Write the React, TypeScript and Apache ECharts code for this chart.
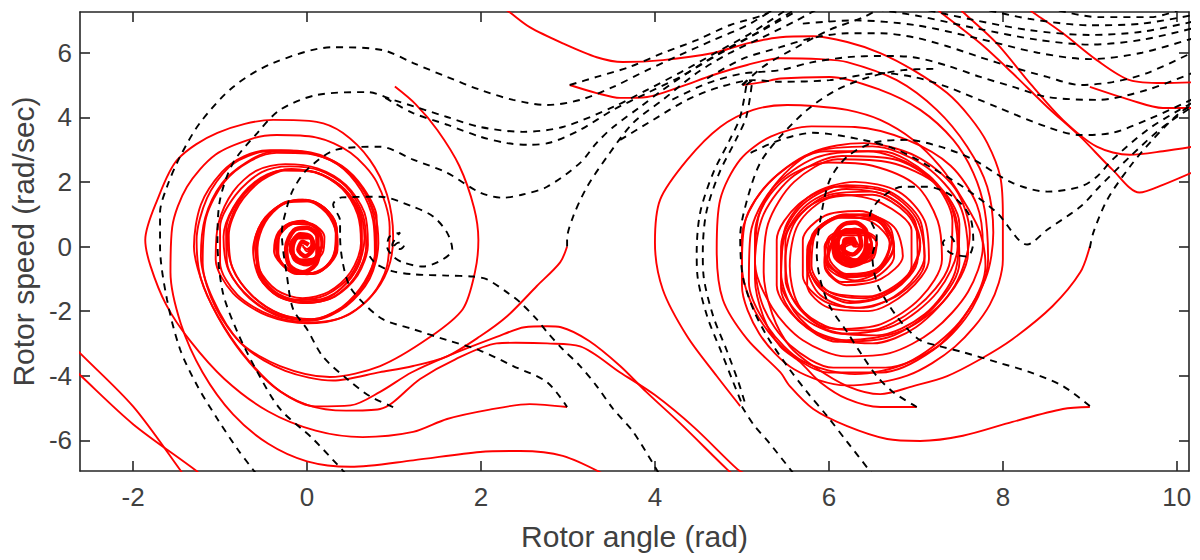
import React, { useEffect, useRef } from "react";
import * as echarts from "echarts";

// ---------- axis ticks ----------
const xTicks = [-2, 0, 2, 4, 6, 8, 10];
const yTicks = [-6, -4, -2, 0, 2, 4, 6];
const xRange = [-2.61, 10.14];
const yRange = [-6.95, 7.26];

// ---------- red trajectories (converging) ----------
const redFrom1_5 = [[1.01,4.95],[1.25,4.4],[1.5,3.6],[1.75,2.5],[1.92,1.2],[1.97,0.2],[1.93,-0.8],[1.79,-1.94],[1.41,-2.81],[0.84,-3.7],[0.26,-4.04],[-0.31,-3.7],[-0.77,-2.96],[-1.08,-1.64],[-1.22,-0.3],[-1.17,0.9],[-0.98,1.95],[-0.7,2.6],[-0.4,2.93],[0.0,2.9],[0.35,2.55],[0.62,1.75],[0.76,0.8],[0.78,-0.2],[0.65,-1.2],[0.38,-1.95],[0.05,-2.25],[-0.3,-2.1],[-0.62,-1.55],[-0.85,-0.7],[-0.92,0.3],[-0.8,1.3],[-0.55,2.05],[-0.25,2.38],[0.1,2.3],[0.4,1.8],[0.58,1.0],[0.62,0.1],[0.5,-0.8],[0.25,-1.4],[-0.05,-1.6],[-0.35,-1.35],[-0.55,-0.7],[-0.6,0.15],[-0.48,0.9],[-0.25,1.35],[0.0,1.4],[0.22,1.05],[0.33,0.4],[0.3,-0.35],[0.12,-0.8],[-0.12,-0.85],[-0.32,-0.45],[-0.36,0.15],[-0.25,0.65],[-0.05,0.8],[0.12,0.5],[0.17,0.0],[0.08,-0.4],[-0.1,-0.45],[-0.2,-0.1],[-0.14,0.3],[0.0,0.35],[0.07,0.1],[0.02,-0.1],[-0.05,0.0]];
const redFrom3_m5 = [[2.99,-4.97],[2.56,-4.88],[2.1,-5.05],[1.61,-5.34],[1.22,-5.74],[0.64,-5.9],[0.1,-5.7],[-0.45,-5.1],[-0.95,-4.1],[-1.35,-2.9],[-1.62,-1.8],[-1.8,-0.6],[-1.86,0.2],[-1.72,1.45],[-1.49,2.69],[-1.03,3.52],[-0.39,3.92],[0.11,3.86],[0.41,3.52],[0.72,2.69],[0.92,1.6],[0.99,0.3],[0.93,-0.7],[0.72,-1.6],[0.4,-2.2],[0.0,-2.38],[-0.45,-2.15],[-0.85,-1.45],[-1.05,-0.4],[-1.02,0.7],[-0.85,1.7],[-0.58,2.35],[-0.25,2.55],[0.12,2.42],[0.45,1.9],[0.66,1.05],[0.7,0.05],[0.58,-0.9],[0.32,-1.55],[0.0,-1.75],[-0.33,-1.55],[-0.55,-0.95],[-0.62,-0.1],[-0.52,0.75],[-0.3,1.3],[-0.05,1.45],[0.2,1.2],[0.34,0.6],[0.35,-0.1],[0.22,-0.65],[0.0,-0.86],[-0.25,-0.65],[-0.38,-0.15],[-0.33,0.45],[-0.15,0.75],[0.06,0.7],[0.2,0.3],[0.18,-0.2],[0.03,-0.5],[-0.15,-0.35],[-0.2,0.05],[-0.1,0.35],[0.05,0.3],[0.09,0.0],[0.0,-0.15],[-0.05,0.05]];
const redLowArc = [[3.45,-7.1],[2.94,-6.48],[2.45,-6.33],[1.99,-6.36],[1.22,-6.62],[0.5,-6.82],[0.0,-6.65],[-0.45,-6.1],[-0.85,-5.2],[-1.2,-3.9],[-1.45,-2.4],[-1.57,-0.8],[-1.55,0.6],[-1.38,1.85],[-1.05,2.85],[-0.62,3.35],[-0.35,3.45],[0.1,3.38],[0.5,2.9],[0.8,2.0],[0.95,0.6],[0.92,-0.6],[0.75,-1.5],[0.45,-2.15],[0.05,-2.35],[-0.4,-2.15],[-0.8,-1.5],[-1.0,-0.5],[-1.0,0.6],[-0.82,1.6],[-0.52,2.3],[-0.2,2.48],[0.15,2.35],[0.45,1.85],[0.64,1.0],[0.68,0.0],[0.55,-0.95],[0.28,-1.6],[-0.05,-1.75],[-0.38,-1.45],[-0.57,-0.75],[-0.58,0.2],[-0.45,0.95],[-0.2,1.4],[0.05,1.4],[0.27,0.95],[0.34,0.2],[0.27,-0.5],[0.07,-0.85],[-0.18,-0.75],[-0.33,-0.3],[-0.32,0.3],[-0.16,0.7],[0.05,0.65],[0.17,0.2],[0.13,-0.3],[-0.03,-0.45],[-0.16,-0.15],[-0.1,0.25],[0.04,0.25],[0.05,0.0]];
const redHumpA = [[4.9,-7.05],[4.83,-6.9],[4.3,-5.5],[3.9,-4.5],[3.6,-3.7],[3.24,-2.92],[2.92,-2.5],[2.76,-2.47],[2.5,-2.5],[2.18,-2.8],[1.61,-3.4],[1.2,-3.9],[0.84,-4.5],[0.5,-4.92],[0.1,-4.95],[-0.3,-4.5],[-0.65,-3.6],[-0.95,-2.5],[-1.18,-1.3],[-1.3,0.0],[-1.22,1.3],[-0.98,2.3],[-0.72,2.8],[-0.43,2.98],[-0.05,2.95],[0.3,2.65],[0.6,1.95],[0.78,1.0],[0.82,0.1],[0.72,-1.0],[0.45,-1.85],[0.08,-2.28],[-0.3,-2.15],[-0.65,-1.6],[-0.9,-0.75],[-0.96,0.3],[-0.85,1.2],[-0.6,2.0],[-0.3,2.35],[0.05,2.32],[0.38,1.9],[0.6,1.15],[0.66,0.25],[0.57,-0.7],[0.32,-1.45],[0.0,-1.7],[-0.32,-1.5],[-0.52,-0.9],[-0.57,-0.05],[-0.48,0.75],[-0.28,1.3],[-0.02,1.45],[0.22,1.15],[0.34,0.5],[0.32,-0.25],[0.15,-0.75],[-0.08,-0.85],[-0.28,-0.55],[-0.35,0.0],[-0.27,0.55],[-0.08,0.78],[0.1,0.6],[0.18,0.15],[0.12,-0.3],[-0.04,-0.45],[-0.17,-0.2],[-0.14,0.2],[0.0,0.3],[0.08,0.08],[0.0,-0.08]];
const redHumpB = [[5.05,-7.05],[4.95,-6.9],[4.45,-5.6],[4.0,-4.6],[3.6,-3.9],[3.14,-3.09],[2.76,-3.0],[2.4,-2.98],[2.18,-3.0],[1.7,-3.5],[1.3,-4.1],[0.84,-5.03],[0.45,-5.08],[0.0,-4.9],[-0.4,-4.3],[-0.75,-3.3],[-1.02,-2.2],[-1.22,-1.0],[-1.27,0.2],[-1.15,1.5],[-0.9,2.45],[-0.6,2.88],[-0.3,2.97],[0.05,2.88],[0.4,2.5],[0.65,1.8],[0.8,0.9],[0.8,-0.1],[0.68,-1.1],[0.4,-1.9],[0.02,-2.3],[-0.38,-2.1],[-0.72,-1.45],[-0.92,-0.5],[-0.93,0.5],[-0.78,1.45],[-0.5,2.15],[-0.18,2.4],[0.18,2.2],[0.48,1.6],[0.63,0.7],[0.62,-0.3],[0.45,-1.15],[0.15,-1.65],[-0.2,-1.65],[-0.48,-1.2],[-0.58,-0.4],[-0.55,0.45],[-0.37,1.15],[-0.1,1.45],[0.15,1.3],[0.32,0.8],[0.35,0.05],[0.22,-0.6],[0.0,-0.85],[-0.22,-0.7],[-0.35,-0.25],[-0.32,0.35],[-0.15,0.7],[0.05,0.68],[0.17,0.3],[0.15,-0.2],[0.0,-0.45],[-0.15,-0.3],[-0.17,0.1],[-0.05,0.32],[0.07,0.15],[0.02,-0.07]];
const redFrom3_0 = [[2.99,0.0],[2.91,-0.49],[2.64,-1.23],[2.3,-2.16],[1.99,-2.78],[1.61,-3.4],[1.22,-3.7],[0.84,-3.89],[0.3,-4.15],[-0.25,-3.85],[-0.72,-3.1],[-1.05,-1.9],[-1.2,-0.5],[-1.16,0.9],[-0.95,2.0],[-0.65,2.65],[-0.35,2.9],[0.0,2.88],[0.35,2.55],[0.62,1.85],[0.77,0.9],[0.79,-0.1],[0.66,-1.1],[0.4,-1.88],[0.05,-2.25],[-0.32,-2.08],[-0.64,-1.5],[-0.86,-0.65],[-0.9,0.35],[-0.78,1.3],[-0.52,2.05],[-0.2,2.38],[0.15,2.25],[0.44,1.75],[0.6,0.95],[0.63,0.0],[0.5,-0.9],[0.22,-1.5],[-0.1,-1.65],[-0.4,-1.35],[-0.56,-0.7],[-0.58,0.15],[-0.46,0.9],[-0.22,1.38],[0.03,1.42],[0.25,1.0],[0.34,0.35],[0.28,-0.4],[0.1,-0.82],[-0.14,-0.82],[-0.31,-0.42],[-0.34,0.15],[-0.22,0.62],[-0.03,0.76],[0.13,0.48],[0.17,0.0],[0.06,-0.38],[-0.1,-0.4],[-0.18,-0.08],[-0.11,0.26],[0.03,0.28],[0.06,0.03]];
const redBlobLeft = [[0.15,0.0],[0.1,-0.55],[-0.05,-0.8],[-0.2,-0.6],[-0.24,-0.05],[-0.15,0.5],[0.0,0.58],[0.12,0.3],[0.12,-0.25],[0.0,-0.55],[-0.14,-0.4],[-0.17,0.05],[-0.08,0.38],[0.04,0.3],[0.07,-0.05],[-0.02,-0.3],[-0.1,-0.1],[-0.05,0.15],[0.02,0.05]];
const redDiagA = [[-2.7,-3.05],[-2.61,-3.3],[-2.0,-4.95],[-1.45,-6.95],[-1.42,-7.1]];
const redDiagB = [[-2.7,-3.75],[-2.61,-3.98],[-2.0,-5.5],[-1.27,-6.95],[-1.22,-7.1]];
const redFrom9_m5 = [[9.0,-4.97],[8.69,-5.03],[8.11,-5.43],[7.54,-5.86],[7.05,-6.02],[6.67,-5.96],[6.21,-5.56],[5.82,-5.03],[5.55,-4.32],[5.44,-3.89],[5.06,-2.87],[4.78,-1.64],[4.71,-0.09],[4.75,1.45],[4.98,2.69],[5.33,3.4],[5.8,3.72],[6.3,3.7],[6.9,3.3],[7.4,2.5],[7.7,1.3],[7.77,0.0],[7.6,-1.4],[7.2,-2.6],[6.7,-3.3],[6.2,-3.4],[5.7,-2.9],[5.35,-1.9],[5.15,-0.5],[5.2,1.0],[5.5,2.1],[6.0,2.6],[6.5,2.5],[7.0,1.9],[7.25,0.8],[7.3,-0.4],[7.05,-1.6],[6.6,-2.4],[6.1,-2.55],[5.7,-2.0],[5.5,-1.0],[5.5,0.2],[5.75,1.2],[6.15,1.6],[6.6,1.35],[6.95,0.5],[6.95,-0.6],[6.65,-1.5],[6.25,-1.75],[5.9,-1.3],[5.75,-0.4],[5.85,0.5],[6.15,0.95],[6.5,0.75],[6.7,0.1],[6.6,-0.7],[6.3,-1.05],[6.0,-0.7],[5.95,0.0],[6.15,0.45],[6.45,0.35],[6.5,-0.2],[6.3,-0.55],[6.1,-0.25],[6.2,0.1],[6.32,0.0]];
const redFrom5_m5 = [[4.98,-4.94],[4.71,-4.01],[4.37,-2.78],[4.09,-1.33],[4.0,0.12],[4.06,1.45],[4.37,2.68],[4.75,3.7],[5.13,4.23],[5.52,4.38],[5.82,4.35],[6.21,4.23],[6.59,3.92],[6.97,3.3],[7.28,2.47],[7.54,1.45],[7.74,0.43],[7.8,-0.6],[7.6,-2.0],[7.2,-3.2],[6.6,-3.9],[6.0,-3.9],[5.5,-3.2],[5.15,-2.0],[5.0,-0.6],[5.05,0.9],[5.4,2.2],[5.95,2.95],[6.6,2.95],[7.15,2.2],[7.45,1.0],[7.5,-0.5],[7.2,-1.9],[6.7,-2.8],[6.1,-2.95],[5.65,-2.3],[5.4,-1.2],[5.4,0.2],[5.65,1.3],[6.1,1.85],[6.65,1.7],[7.0,0.9],[7.1,-0.3],[6.85,-1.35],[6.4,-1.9],[5.95,-1.7],[5.7,-0.9],[5.7,0.2],[5.95,0.95],[6.35,1.1],[6.7,0.6],[6.75,-0.3],[6.5,-1.0],[6.15,-1.1],[5.95,-0.5],[6.0,0.3],[6.3,0.55],[6.55,0.1],[6.45,-0.45],[6.2,-0.5],[6.15,0.0],[6.3,0.2],[6.28,0.0]];
const redFrom7_m5 = [[7.01,-4.97],[6.59,-4.97],[6.21,-4.72],[5.9,-4.2],[5.67,-3.58],[5.44,-3.09],[5.25,-2.2],[5.15,-1.0],[5.15,0.4],[5.35,1.8],[5.8,2.9],[6.4,3.2],[7.0,2.8],[7.45,1.8],[7.62,0.4],[7.45,-1.2],[7.0,-2.5],[6.5,-3.0],[5.95,-2.8],[5.6,-2.0],[5.45,-0.8],[5.5,0.6],[5.8,1.6],[6.3,2.0],[6.8,1.7],[7.1,0.8],[7.15,-0.4],[6.9,-1.4],[6.45,-2.0],[6.0,-1.9],[5.75,-1.2],[5.75,-0.1],[6.0,0.8],[6.4,1.0],[6.75,0.6],[6.85,-0.3],[6.6,-1.0],[6.2,-1.2],[5.95,-0.6],[6.0,0.2],[6.3,0.55],[6.55,0.2],[6.5,-0.4],[6.25,-0.55],[6.1,-0.1],[6.28,0.2],[6.35,0.0],[6.28,0.0]];
const redFrom9_0 = [[9.0,0.0],[8.89,-0.8],[8.57,-1.85],[8.11,-2.87],[7.74,-3.49],[7.36,-4.01],[6.97,-4.32],[6.59,-4.57],[6.21,-4.32],[5.82,-3.7],[5.55,-3.09],[5.35,-2.1],[5.25,-0.8],[5.3,0.7],[5.6,2.0],[6.1,2.7],[6.7,2.6],[7.25,1.9],[7.5,0.7],[7.45,-0.8],[7.1,-2.1],[6.55,-2.75],[6.0,-2.6],[5.65,-1.8],[5.55,-0.6],[5.65,0.7],[6.0,1.5],[6.5,1.6],[6.9,1.0],[7.05,0.0],[6.85,-1.1],[6.4,-1.6],[6.0,-1.4],[5.8,-0.6],[5.85,0.4],[6.15,0.9],[6.55,0.8],[6.7,0.1],[6.55,-0.7],[6.2,-0.85],[6.0,-0.3],[6.15,0.35],[6.45,0.35],[6.5,-0.1],[6.3,-0.4],[6.15,-0.1],[6.28,0.1],[6.28,0.0]];
const redFromTop = [[2.25,7.4],[2.33,7.25],[2.56,6.79],[2.94,6.29],[3.33,5.86],[3.63,5.71],[4.09,5.77],[4.67,5.99],[5.06,6.29],[5.44,6.48],[5.82,6.51],[6.21,6.33],[6.59,5.99],[6.97,5.46],[7.36,4.75],[7.62,4.01],[7.82,3.21],[7.97,2.16],[8.0,0.93],[8.0,-0.4],[7.85,-1.8],[7.45,-3.1],[6.9,-4.0],[6.2,-4.3],[5.6,-3.8],[5.2,-2.7],[5.0,-1.2],[5.0,0.3],[5.25,1.8],[5.8,2.9],[6.5,3.1],[7.1,2.5],[7.5,1.3],[7.6,-0.2],[7.35,-1.6],[6.85,-2.6],[6.2,-2.9],[5.7,-2.4],[5.45,-1.3],[5.45,0.0],[5.7,1.3],[6.2,1.9],[6.7,1.7],[7.05,0.8],[7.1,-0.5],[6.8,-1.5],[6.3,-1.9],[5.9,-1.5],[5.75,-0.6],[5.85,0.5],[6.2,1.0],[6.6,0.8],[6.75,0.0],[6.55,-0.8],[6.2,-0.95],[5.98,-0.4],[6.1,0.35],[6.4,0.45],[6.5,-0.1],[6.3,-0.45],[6.12,-0.1],[6.28,0.15],[6.3,0.0]];
const redFrom3_5 = [[3.02,5.0],[3.33,4.75],[3.6,4.6],[3.91,4.63],[4.29,4.94],[4.67,5.31],[5.06,5.62],[5.44,5.83],[5.9,5.8],[6.21,5.71],[6.78,5.15],[7.24,4.23],[7.59,3.09],[7.82,1.85],[7.89,0.43],[7.8,-1.0],[7.45,-2.5],[6.9,-3.6],[6.3,-3.95],[5.7,-3.55],[5.3,-2.5],[5.08,-1.1],[5.1,0.4],[5.35,1.8],[5.85,2.75],[6.45,2.95],[7.0,2.45],[7.38,1.4],[7.48,0.0],[7.25,-1.4],[6.75,-2.45],[6.15,-2.7],[5.68,-2.15],[5.45,-1.1],[5.48,0.2],[5.75,1.3],[6.2,1.78],[6.68,1.55],[7.0,0.7],[7.02,-0.4],[6.75,-1.35],[6.3,-1.7],[5.92,-1.35],[5.76,-0.5],[5.86,0.45],[6.2,0.98],[6.58,0.78],[6.74,0.0],[6.55,-0.75],[6.2,-0.92],[5.98,-0.35],[6.1,0.35],[6.42,0.42],[6.5,-0.1],[6.3,-0.45],[6.12,-0.1],[6.28,0.15],[6.3,0.0]];
const redFrom5_5 = [[5.01,5.0],[5.24,5.09],[5.44,5.2],[6.01,5.25],[6.59,4.85],[7.05,4.23],[7.43,3.3],[7.66,2.28],[7.79,1.14],[7.83,-0.4],[7.65,-1.9],[7.25,-3.1],[6.65,-3.75],[6.05,-3.75],[5.55,-3.05],[5.25,-1.9],[5.15,-0.5],[5.25,1.0],[5.6,2.2],[6.15,2.8],[6.75,2.7],[7.2,2.0],[7.42,0.8],[7.38,-0.6],[7.0,-1.9],[6.45,-2.6],[5.9,-2.45],[5.58,-1.6],[5.5,-0.4],[5.62,0.8],[6.0,1.6],[6.5,1.7],[6.9,1.1],[7.05,0.1],[6.88,-0.95],[6.45,-1.55],[6.0,-1.4],[5.78,-0.7],[5.8,0.3],[6.1,0.9],[6.5,0.85],[6.72,0.2],[6.6,-0.6],[6.25,-0.9],[5.98,-0.5],[6.02,0.25],[6.33,0.5],[6.55,0.1],[6.42,-0.4],[6.18,-0.35],[6.17,0.1],[6.32,0.15],[6.3,-0.02]];
const redBlobRight = [[6.47,0.1],[6.42,-0.4],[6.25,-0.6],[6.08,-0.35],[6.05,0.2],[6.15,0.65],[6.3,0.74],[6.43,0.45],[6.42,-0.1],[6.3,-0.45],[6.13,-0.3],[6.1,0.15],[6.2,0.5],[6.33,0.45],[6.37,0.05],[6.27,-0.25],[6.17,-0.1],[6.18,0.2],[6.28,0.25],[6.3,0.05]];
const redTopRightA = [[7.2,7.45],[7.28,7.26],[7.74,6.29],[8.11,5.37],[8.51,4.32],[8.89,3.4],[9.26,2.38],[9.57,1.67],[9.84,1.91],[10.25,2.38]];
const redTopRightB = [[7.46,7.45],[7.54,7.26],[7.93,6.29],[8.31,5.06],[8.69,3.92],[9.08,3.09],[9.46,2.84],[9.84,2.95],[10.25,3.12]];
const redTopRightC = [[8.24,7.45],[8.34,7.26],[8.69,6.6],[9.08,5.77],[9.46,5.15],[9.84,5.06],[10.25,5.09]];
const redFrom9_5 = [[9.0,4.94],[9.46,4.54],[9.84,4.29],[10.25,4.29]];

// ---------- black dashed trajectories ----------
const dashOuter = [[-0.58,-7.05],[-0.8,-6.27],[-1.03,-5.34],[-1.26,-4.32],[-1.46,-3.18],[-1.61,-1.64],[-1.69,0.0],[-1.69,1.05],[-1.61,1.85],[-1.46,2.78],[-1.23,3.83],[-0.85,4.94],[-0.39,5.68],[0.3,6.17],[0.87,6.08],[1.22,5.68],[1.61,5.25],[1.99,4.85],[2.37,4.54],[2.76,4.38],[3.14,4.54],[3.52,4.94],[3.91,5.46],[4.29,5.93],[4.67,6.39],[5.06,6.85],[5.4,7.4]];
const dashSecond = [[0.45,-7.05],[0.07,-5.96],[-0.31,-5.03],[-0.57,-3.89],[-0.8,-2.65],[-0.97,-1.4],[-1.03,0.2],[-1.0,1.45],[-0.85,2.59],[-0.57,3.52],[-0.31,4.23],[0.11,4.69],[0.69,4.78],[0.99,4.54],[1.61,4.01],[1.99,3.7],[2.48,3.55],[2.94,3.7],[3.52,4.32],[3.91,4.85],[4.3,5.4],[4.7,6.0],[5.1,6.6],[5.55,7.4]];
const dashThird = [[0.9,4.6],[1.22,4.13],[1.61,3.77],[1.99,3.4],[2.3,3.2],[2.55,3.15],[2.8,3.22],[3.14,3.61],[3.52,4.23],[3.91,4.75],[4.29,5.25],[4.7,5.9],[5.1,6.5],[5.65,7.4]];
const dashFrom1_m5 = [[0.99,-4.97],[0.72,-4.63],[0.46,-4.1],[0.18,-3.4],[0.0,-2.56],[-0.16,-1.94],[-0.23,-0.93],[-0.29,0.43],[-0.23,1.23],[-0.16,1.76],[0.0,2.38],[0.34,3.0],[0.84,3.09],[1.22,2.69],[1.61,2.28],[1.99,1.67],[2.25,1.51],[2.48,1.61],[2.76,1.85],[3.14,2.59],[3.33,3.21],[3.52,3.7],[3.83,4.32],[4.09,4.85],[4.48,5.56],[4.86,6.17],[5.24,6.7],[5.7,7.4]];
const dashLoop1 = [[1.0,0.02],[1.05,0.12],[1.12,0.05],[1.07,-0.08],[0.98,0.05],[1.07,0.43],[0.95,0.31],[0.92,0.0],[0.99,-0.31],[1.1,-0.49],[1.33,-0.62],[1.56,-0.4],[1.67,-0.09],[1.61,0.43],[1.45,0.93],[1.22,1.23],[0.84,1.54],[0.4,1.52],[0.3,1.3],[0.38,0.8],[0.38,0.31],[0.41,-0.49],[0.49,-1.23],[0.64,-1.73],[0.87,-2.25],[1.22,-2.56],[1.61,-2.9],[1.99,-3.22],[2.37,-3.7],[2.76,-4.2],[2.99,-4.97]];
const dashMidDown = [[0.72,-0.3],[0.8,-0.55],[0.99,-0.77],[1.22,-0.86],[1.61,-0.9],[1.91,-0.93],[2.07,-1.02],[2.3,-1.42],[2.45,-1.73],[2.64,-2.25],[2.76,-2.65],[2.94,-3.18],[3.14,-3.7],[3.33,-4.32],[3.52,-5.03],[3.75,-5.74],[4.05,-7.05]];
const dashFrom3_0 = [[2.99,0.0],[2.99,0.22],[3.06,0.93],[3.22,1.85],[3.45,2.78],[3.75,3.83],[4.09,4.54],[4.48,5.37],[4.86,5.99],[5.24,6.48],[5.63,7.0],[5.9,7.4]];
const dashFrom3_5 = [[3.02,5.0],[3.33,5.25],[3.71,5.56],[4.09,5.99],[4.48,6.39],[4.86,6.85],[5.24,7.16],[5.4,7.4]];
const dashFrom5_5 = [[5.01,5.0],[5.24,5.56],[5.63,6.17],[6.0,6.7],[6.4,7.1],[6.6,7.4]];
const dashTwinA = [[5.0,5.0],[5.06,5.15],[4.98,4.01],[4.86,3.3],[4.67,2.28],[4.52,1.05],[4.48,-0.2],[4.49,-0.93],[4.6,-2.16],[4.75,-3.18],[4.9,-4.2],[5.01,-4.94]];
const dashTwinB = [[5.05,5.0],[5.12,5.15],[5.05,4.01],[4.93,3.3],[4.74,2.28],[4.59,1.05],[4.55,-0.2],[4.56,-0.93],[4.67,-2.16],[4.82,-3.18],[4.96,-4.2],[5.03,-4.8]];
const dashFrom5_m5 = [[5.0,-4.95],[5.13,-5.5],[5.32,-6.1],[5.6,-7.05]];
const dashRightLeft = [[7.2,5.5],[6.85,5.46],[6.47,5.25],[6.09,4.85],[5.75,4.23],[5.44,3.4],[5.21,2.59],[5.06,1.45],[4.98,0.31],[5.01,-0.93],[5.13,-1.94],[5.29,-2.78],[5.52,-3.7],[5.75,-4.51],[5.98,-5.25],[6.21,-6.05],[6.5,-7.05]];
const dashFrom9_m5 = [[9.0,-4.94],[8.69,-4.32],[8.31,-3.89],[7.93,-3.58],[7.54,-3.27],[7.28,-3.09],[7.05,-2.9],[6.85,-2.4],[6.67,-1.73],[6.55,-1.11],[6.5,-0.31],[6.55,0.31],[6.47,0.93],[6.6,1.5],[6.85,1.85],[7.13,1.85],[7.43,1.54],[7.62,0.93],[7.66,0.12],[7.59,-0.31],[7.39,-0.19],[7.31,0.12],[7.4,0.3],[7.45,0.1]];
const dashFrom7_m5 = [[7.01,-4.97],[6.74,-4.51],[6.55,-4.01],[6.39,-3.4],[6.21,-2.65],[6.01,-1.85],[5.9,-1.02],[5.86,-0.19],[5.9,0.8],[6.01,2.06],[6.21,2.78],[6.51,3.21],[6.9,3.3],[7.28,3.09],[7.66,2.69],[8.11,1.97],[8.51,1.7],[8.89,1.85],[9.08,2.16],[9.26,2.69],[9.66,3.61],[10.03,4.23],[10.25,4.55]];
const dashFrom9_0 = [[9.0,-0.05],[9.04,0.43],[9.2,1.45],[9.46,2.47],[9.72,3.3],[10.03,4.13],[10.25,4.5]];
const dashVee = [[5.1,2.9],[5.44,3.3],[5.82,3.52],[6.39,3.3],[6.78,3.0],[7.16,2.47],[7.54,1.85],[7.93,1.05],[8.28,0.06],[8.51,0.52],[8.89,1.23],[9.11,1.85],[9.46,2.78],[9.84,3.7],[10.25,4.45]];
const dashTop0 = [[5.7,6.9],[6.3,7.0],[7.0,6.85],[7.7,6.45],[8.4,6.0],[9.0,5.8],[9.6,6.0],[10.25,6.5]];
const dashTop1 = [[4.6,5.2],[5.0,5.8],[5.44,6.17],[5.8,6.45],[6.21,6.6],[6.6,6.6],[6.97,6.48],[7.36,6.2],[7.74,5.86],[8.11,5.55],[8.51,5.25],[8.89,5.0],[9.26,5.09],[9.66,5.37],[10.25,6.1]];
const dashTop2 = [[4.2,4.55],[4.6,5.05],[5.0,5.35],[5.44,5.46],[5.8,5.7],[6.21,5.86],[6.6,5.9],[6.97,5.86],[7.36,5.6],[7.74,5.25],[8.11,4.95],[8.51,4.63],[9.08,4.54],[9.66,4.85],[10.25,5.45]];
const dashTop3 = [[3.6,3.3],[3.98,3.92],[4.37,4.54],[4.75,4.94],[5.13,5.15],[5.44,5.1],[6.01,5.15],[6.59,5.37],[6.97,5.25],[7.36,4.94],[7.93,4.32],[8.51,3.7],[8.89,3.45],[9.26,3.52],[9.66,3.92],[10.25,4.65]];
const dashTop4 = [[6.4,7.4],[7.0,7.15],[7.7,6.75],[8.4,6.4],[9.0,6.25],[9.6,6.4],[10.25,6.8]];
const dashTop5 = [[7.0,7.4],[7.6,7.05],[8.3,6.7],[9.0,6.55],[9.6,6.65],[10.25,7.0]];
const dashTop6 = [[7.7,7.4],[8.3,7.05],[9.0,6.85],[9.6,6.9],[10.25,7.2]];
const dashTop7 = [[8.5,7.4],[9.1,7.1],[9.7,7.1],[10.1,7.4]];

const redCurves = [redFrom1_5, redFrom3_m5, redLowArc, redHumpA, redHumpB, redFrom3_0, redDiagA, redDiagB,
  redFrom9_m5, redFrom5_m5, redFrom7_m5, redFrom9_0, redFromTop, redFrom3_5, redFrom5_5,
  redTopRightA, redTopRightB, redTopRightC, redFrom9_5];
const redBlobs = [redBlobLeft, redBlobRight];
const dashedCurves = [dashOuter, dashSecond, dashThird, dashFrom1_m5, dashLoop1, dashMidDown, dashFrom3_0, dashFrom3_5,
  dashFrom5_5, dashTwinA, dashTwinB, dashFrom5_m5, dashRightLeft, dashFrom9_m5, dashFrom7_m5, dashFrom9_0, dashVee,
  dashTop0, dashTop1, dashTop2, dashTop3, dashTop4, dashTop5, dashTop6, dashTop7];

const FONT = "'Liberation Sans', Arial, sans-serif";
const AXIS_COLOR = "#262626";
const TEXT_COLOR = "#404040";

export default function App() {
  const ref = useRef<HTMLDivElement>(null);
  useEffect(() => {
    if (!ref.current) return;
    const chart = echarts.init(ref.current, undefined, { renderer: "svg" });
    const axisLine = { show: true, onZero: false, lineStyle: { color: AXIS_COLOR, width: 1.6 } };
    const mkX = (pos: string, labels: boolean) => ({
      type: "value", min: xRange[0], max: xRange[1], position: pos,
      axisLine,
      axisTick: { show: true, inside: true, length: 10, customValues: xTicks, lineStyle: { color: AXIS_COLOR, width: 1.6 } },
      axisLabel: labels
        ? { show: true, customValues: xTicks, fontSize: 26, color: TEXT_COLOR, fontFamily: FONT, margin: 13 }
        : { show: false },
      splitLine: { show: false },
      ...(labels ? { name: "Rotor angle (rad)", nameLocation: "middle", nameGap: 50,
        nameTextStyle: { fontSize: 30, color: TEXT_COLOR, fontFamily: FONT } } : {}),
    });
    const mkY = (pos: string, labels: boolean) => ({
      type: "value", min: yRange[0], max: yRange[1], position: pos,
      axisLine,
      axisTick: { show: true, inside: true, length: 10, customValues: yTicks, lineStyle: { color: AXIS_COLOR, width: 1.6 } },
      axisLabel: labels
        ? { show: true, customValues: yTicks, fontSize: 26, color: TEXT_COLOR, fontFamily: FONT, margin: 8 }
        : { show: false },
      splitLine: { show: false },
      ...(labels ? { name: "Rotor speed (rad/sec)", nameLocation: "middle", nameGap: 40,
        nameTextStyle: { fontSize: 30, color: TEXT_COLOR, fontFamily: FONT } } : {}),
    });
    const series: any[] = [];
    redCurves.forEach((c) => series.push({
      type: "line", data: c, showSymbol: false, smooth: 0.3, silent: true, clip: true, z: 2,
      lineStyle: { color: "#ff0000", width: 1.9 },
    }));
    redBlobs.forEach((c) => series.push({
      type: "line", data: c, showSymbol: false, smooth: 0.3, silent: true, clip: true, z: 2,
      lineStyle: { color: "#ff0000", width: 4.5 },
    }));
    dashedCurves.forEach((c) => series.push({
      type: "line", data: c, showSymbol: false, smooth: 0.3, silent: true, clip: true, z: 3,
      lineStyle: { color: "#000000", width: 1.9, type: [7, 6] },
    }));
    chart.setOption({
      animation: false,
      backgroundColor: "#ffffff",
      grid: { left: 80, right: 11, top: 12, bottom: 89, containLabel: false },
      xAxis: [mkX("bottom", true), mkX("top", false)],
      yAxis: [mkY("left", true), mkY("right", false)],
      series,
    });
    return () => chart.dispose();
  }, []);
  return (
    <div style={{ position: "fixed", left: 0, top: 0, width: 1200, height: 560, background: "#fff" }}>
      <div ref={ref} style={{ width: 1200, height: 560 }} />
    </div>
  );
}
